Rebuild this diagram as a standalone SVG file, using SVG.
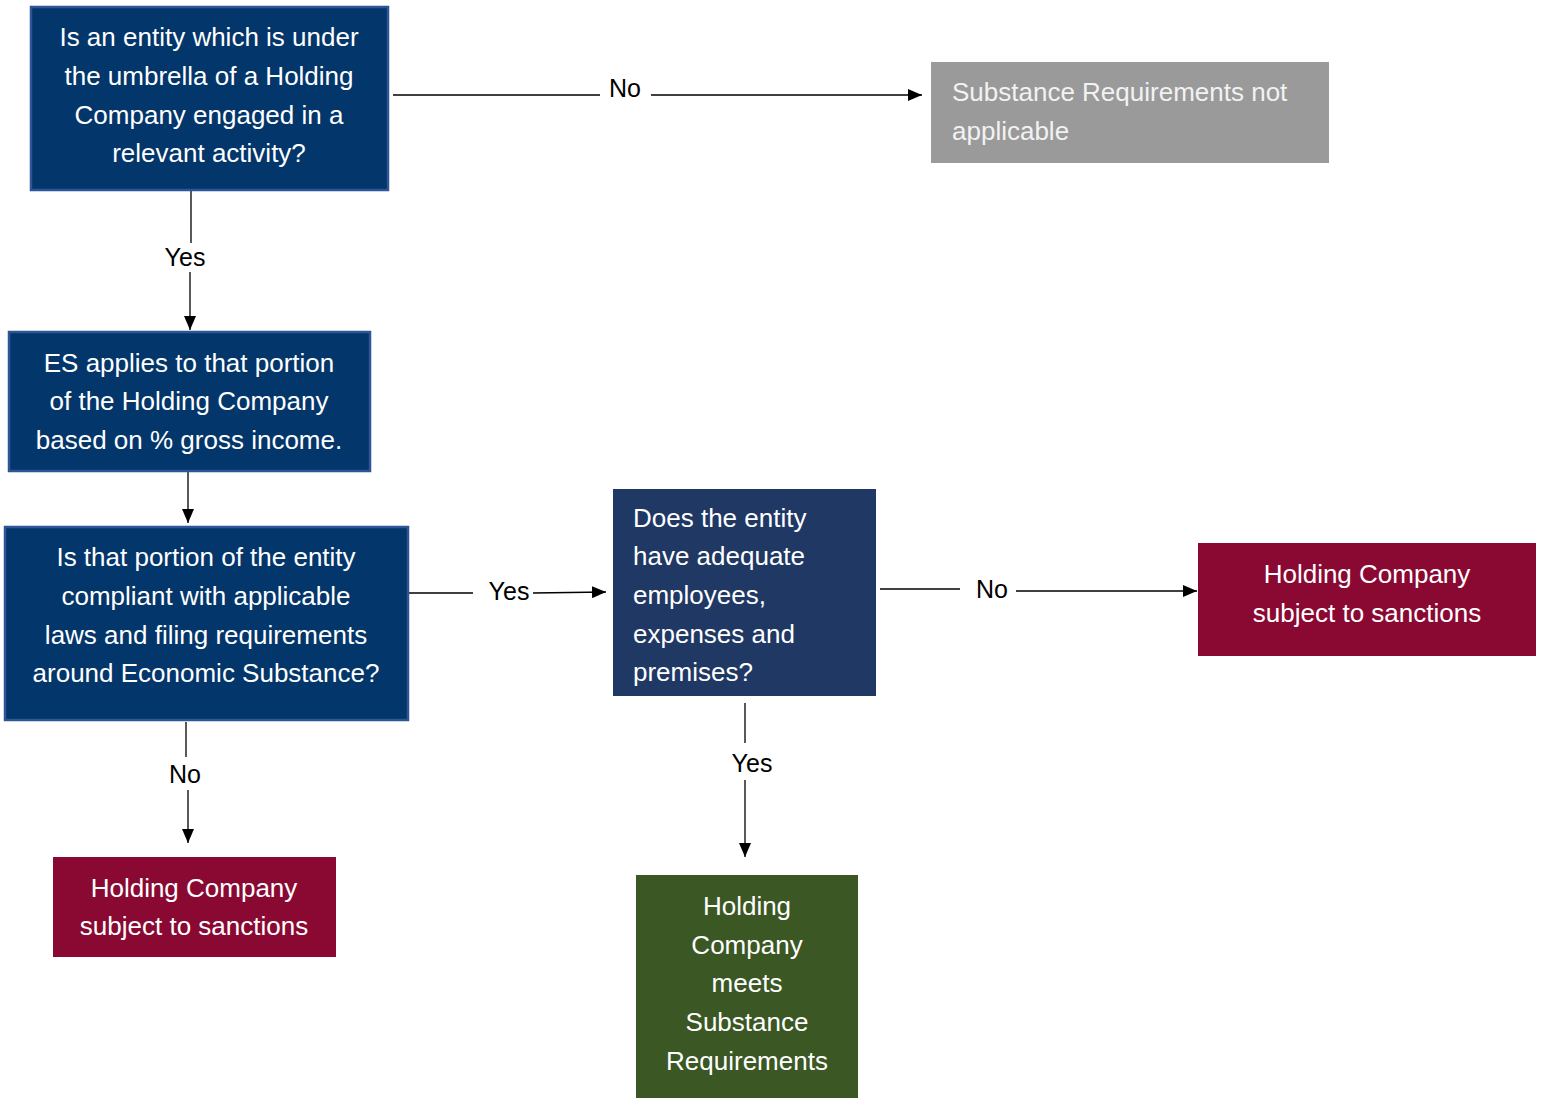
<svg xmlns="http://www.w3.org/2000/svg" width="1543" height="1098" viewBox="0 0 1543 1098">
<style>
.t{font-family:"Liberation Sans",Arial,sans-serif;font-size:26px;fill:#ffffff}
.c{text-anchor:middle}
.lbl{font-family:"Liberation Sans",Arial,sans-serif;font-size:25px;fill:#000000;text-anchor:middle}
.ln{stroke:#000000;stroke-width:1.3;fill:none}
.navy{fill:#03366A;stroke:#2F5597;stroke-width:2.5}
</style>
<defs>
<marker id="ahb" viewBox="0 0 14 12" refX="14" refY="6" markerWidth="14" markerHeight="12" markerUnits="userSpaceOnUse" orient="auto">
<path d="M0,0 L14,6 L0,12 Z" fill="#000"/>
</marker>
</defs>
<rect width="1543" height="1098" fill="#ffffff"/>
<g id="connectors">
<line class="ln" x1="393" y1="95" x2="600" y2="95"/>
<line class="ln" x1="651" y1="95" x2="922" y2="95" marker-end="url(#ahb)"/>
<text class="lbl" x="625" y="97">No</text>
<line class="ln" x1="191" y1="191" x2="191" y2="243"/>
<line class="ln" x1="190" y1="272" x2="190" y2="330" marker-end="url(#ahb)"/>
<text class="lbl" x="185" y="266">Yes</text>
<line class="ln" x1="188" y1="471" x2="188" y2="523" marker-end="url(#ahb)"/>
<line class="ln" x1="409" y1="593" x2="473" y2="593"/>
<line class="ln" x1="533" y1="593" x2="606" y2="592" marker-end="url(#ahb)"/>
<text class="lbl" x="509" y="600">Yes</text>
<line class="ln" x1="880" y1="589" x2="960" y2="589"/>
<line class="ln" x1="1016" y1="591" x2="1197" y2="591" marker-end="url(#ahb)"/>
<text class="lbl" x="992" y="598">No</text>
<line class="ln" x1="186" y1="722" x2="186" y2="757"/>
<line class="ln" x1="188" y1="790" x2="188" y2="843" marker-end="url(#ahb)"/>
<text class="lbl" x="185" y="783">No</text>
<line class="ln" x1="745" y1="703" x2="745" y2="743"/>
<line class="ln" x1="745" y1="780" x2="745" y2="857" marker-end="url(#ahb)"/>
<text class="lbl" x="752" y="772">Yes</text>
</g>
<g id="n1">
<rect class="navy" x="31" y="7" width="357" height="183"/>
<text class="t c" x="209" y="46">Is an entity which is under</text>
<text class="t c" x="209" y="85">the umbrella of a Holding</text>
<text class="t c" x="209" y="124">Company engaged in a</text>
<text class="t c" x="209" y="162">relevant activity?</text>
</g>
<g id="n2">
<rect class="navy" x="9" y="332" width="361" height="139"/>
<text class="t c" x="189" y="372">ES applies to that portion</text>
<text class="t c" x="189" y="410">of the Holding Company</text>
<text class="t c" x="189" y="449">based on % gross income.</text>
</g>
<g id="n3">
<rect class="navy" x="5" y="527" width="403" height="193"/>
<text class="t c" x="206" y="566">Is that portion of the entity</text>
<text class="t c" x="206" y="605">compliant with applicable</text>
<text class="t c" x="206" y="644">laws and filing requirements</text>
<text class="t c" x="206" y="682">around Economic Substance?</text>
</g>
<g id="n4">
<rect x="613" y="489" width="263" height="207" fill="#1F3864"/>
<text class="t" x="633" y="527">Does the entity</text>
<text class="t" x="633" y="565">have adequate</text>
<text class="t" x="633" y="604">employees,</text>
<text class="t" x="633" y="643">expenses and</text>
<text class="t" x="633" y="681">premises?</text>
</g>
<g id="n5">
<rect x="931" y="62" width="398" height="101" fill="#9A9A9A"/>
<text class="t" x="952" y="101" style="fill:#F2F2F2">Substance Requirements not</text>
<text class="t" x="952" y="140" style="fill:#F2F2F2">applicable</text>
</g>
<g id="n6">
<rect x="1198" y="543" width="338" height="113" fill="#8A0933"/>
<text class="t c" x="1367" y="583">Holding Company</text>
<text class="t c" x="1367" y="622">subject to sanctions</text>
</g>
<g id="n7">
<rect x="53" y="857" width="283" height="100" fill="#8A0933"/>
<text class="t c" x="194" y="897">Holding Company</text>
<text class="t c" x="194" y="935">subject to sanctions</text>
</g>
<g id="n8">
<rect x="636" y="875" width="222" height="223" fill="#3A5724"/>
<text class="t c" x="747" y="915">Holding</text>
<text class="t c" x="747" y="954">Company</text>
<text class="t c" x="747" y="992">meets</text>
<text class="t c" x="747" y="1031">Substance</text>
<text class="t c" x="747" y="1070">Requirements</text>
</g>
</svg>
